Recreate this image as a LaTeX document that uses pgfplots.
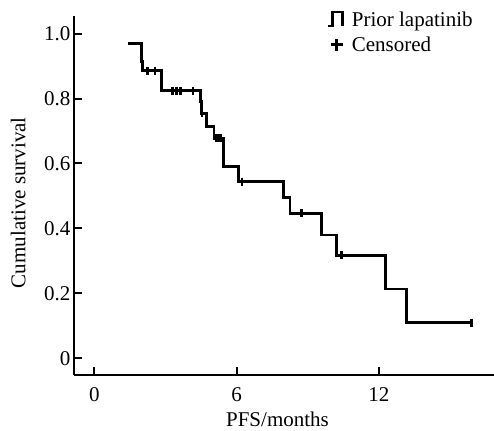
\documentclass[border=0pt]{standalone}
\usepackage{pgfplots}
\pgfplotsset{compat=1.18}
\usepackage{fontspec}
\setmainfont{Liberation Serif}
\begin{document}
\begin{tikzpicture}
\begin{axis}[
  scale only axis,
  width=420pt, height=359pt,
  xmin=-0.86, xmax=16.85, ymin=-0.051, ymax=1.054,
  axis x line*=bottom, axis y line*=left,
  axis line style={line width=2pt},
  tick style={line width=2pt, black},
  tick align=inside,
  major tick length=8pt,
  xtick={0,6,12},
  ytick={0,0.2,0.4,0.6,0.8,1.0},
  yticklabels={0,0.2,0.4,0.6,0.8,1.0},
  /pgf/number format/assume math mode=true,
  tick label style={font=\fontsize{21}{24}\selectfont},
  xticklabel style={yshift=-9pt},
  label style={font=\fontsize{21}{24}\selectfont},
  xlabel={PFS/months},
  ylabel={Cumulative survival},
  xlabel style={at={(axis description cs:0.4845,-0.143)}, anchor=base, inner sep=1pt},
  ylabel style={at={(axis description cs:-0.133,0.48)}, anchor=center},
  legend style={draw=none, fill=none, at={(rel axis cs:0.6,1.015)}, anchor=north west,
    font=\fontsize{21}{24}\selectfont, row sep=9pt, inner sep=0pt,
    nodes={inner sep=1pt, text depth=0pt}},
  legend cell align=left,
  clip=false,
]
\addplot[const plot, line width=2.8pt, black,
  legend image code/.code={\draw[line width=2.6pt, black] (0pt,-7pt) -- (5pt,-7pt) -- (5pt,7pt) -- (15pt,7pt) -- (15pt,-7pt); \path (22pt,0pt);}]
coordinates {
(1.42,0.970) (2.00,0.913) (2.04,0.885) (2.84,0.824) (4.46,0.790) (4.53,0.754)
(4.74,0.713) (5.04,0.677) (5.44,0.590) (6.07,0.544) (7.97,0.495) (8.25,0.447)
(9.56,0.380) (10.22,0.318) (12.26,0.214) (13.17,0.110) (15.91,0.110)
};
\addlegendentry{Prior lapatinib}
\addplot[only marks, mark=|, mark size=4pt, black, mark options={line width=2.6pt},
  legend image code/.code={\draw[line width=2.6pt, black] (3pt,0pt) -- (15pt,0pt); \draw[line width=2.6pt, black] (9pt,-6pt) -- (9pt,6pt); \path (22pt,0pt);}]
coordinates {
(2.24,0.885) (2.56,0.885) (3.30,0.824) (3.45,0.824) (3.64,0.824) (4.15,0.824)
(4.53,0.754) (5.12,0.677) (5.22,0.677) (5.32,0.677) (6.22,0.544) (8.74,0.447)
(10.43,0.318) (15.91,0.110)
};
\addlegendentry{Censored}
\coordinate (sw) at (rel axis cs:0,0);
\coordinate (ne) at (rel axis cs:1,1);
\end{axis}
\pgfresetboundingbox
\path ([shift={(-74pt,-55pt)}]sw) rectangle ([shift={(0pt,16pt)}]ne);
\end{tikzpicture}
\end{document}
